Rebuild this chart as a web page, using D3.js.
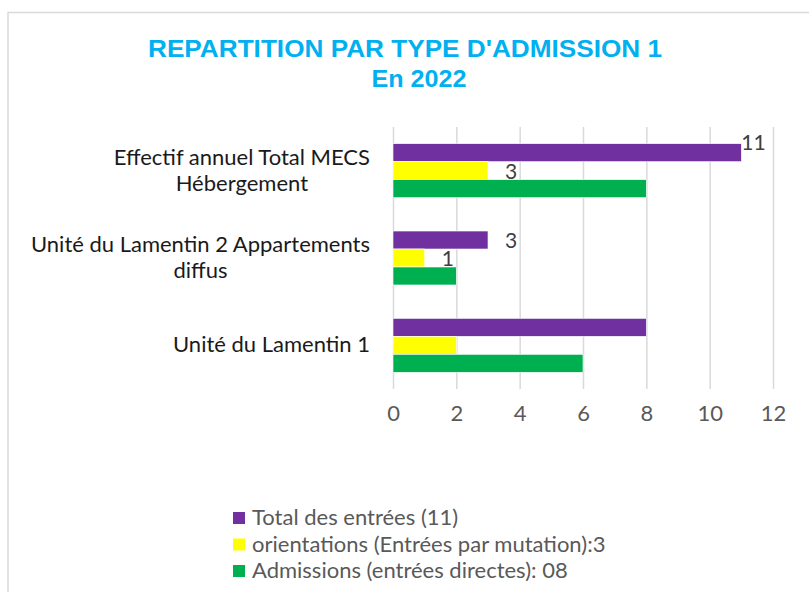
<!DOCTYPE html>
<html>
<head>
<meta charset="utf-8">
<script src="https://cdn.jsdelivr.net/npm/d3@7"></script>
<style>
  body { margin: 0; background: #fff; }
  svg { display: block; }
</style>
</head>
<body>
<svg id="chart" width="809" height="592"></svg>
<script>
// categories, top to bottom (each one split into its wrapped lines)
const categories = ["Effectif annuel Total MECS Hébergement", "Unité du Lamentin 2 Appartements diffus", "Unité du Lamentin 1"];
const categoryLines = [["Effectif annuel Total MECS", "Hébergement"], ["Unité du Lamentin 2 Appartements", "diffus"], ["Unité du Lamentin 1"]];

const seriesNames = ["Total des entrées (11)", "orientations (Entrées par mutation):3", "Admissions (entrées directes): 08"];
const seriesColors = ["#7030A0", "#FFFF00", "#00B050"];

const totalValues = [11, 3, 8];
const orientationValues = [3, 1, 2];
const admissionValues = [8, 2, 6];

// which bars carry a data label (null = no label)
const totalLabels = [11, 3, null];
const orientationLabels = [3, 1, null];
const admissionLabels = [null, null, null];

const xTicks = [0, 2, 4, 6, 8, 10, 12];
const titleLines = ["REPARTITION PAR TYPE D'ADMISSION 1", "En 2022"];

const seriesValues = [totalValues, orientationValues, admissionValues];
const seriesLabels = [totalLabels, orientationLabels, admissionLabels];

const svg = d3.select("#chart");
const font = "Lato, 'Open Sans', sans-serif";

// chart frame (runs off the picture on the right and bottom)
svg.append("rect")
  .attr("x", 8).attr("y", 12.5)
  .attr("width", 820).attr("height", 600)
  .attr("fill", "#fff")
  .attr("stroke", "#D9D9D9")
  .attr("stroke-width", 1.5);

// title
svg.append("text")
  .attr("x", 405).attr("y", 57)
  .attr("text-anchor", "middle")
  .attr("font-family", "'Liberation Sans Narrow', 'Liberation Sans', Arial, sans-serif")
  .attr("font-weight", "bold")
  .attr("font-size", 24)
  .attr("fill", "#00B0F0")
  .attr("textLength", 514)
  .attr("lengthAdjust", "spacingAndGlyphs")
  .text(titleLines[0]);
svg.append("text")
  .attr("x", 419).attr("y", 87)
  .attr("text-anchor", "middle")
  .attr("font-family", "'Liberation Sans Narrow', 'Liberation Sans', Arial, sans-serif")
  .attr("font-weight", "bold")
  .attr("font-size", 24)
  .attr("fill", "#00B0F0")
  .attr("textLength", 95)
  .attr("lengthAdjust", "spacingAndGlyphs")
  .text(titleLines[1]);

// scales
const x = d3.scaleLinear().domain([0, 12]).range([393, 773]);
const y = d3.scaleBand().domain(categories).range([127, 389])
  .paddingInner(0.382).paddingOuter(0.191);
const ySub = d3.scaleBand().domain(d3.range(seriesNames.length)).range([0, y.bandwidth()]);

// gridlines
svg.append("g")
  .attr("transform", "translate(0,389)")
  .call(d3.axisBottom(x).tickValues(xTicks).tickSize(-262).tickFormat(""))
  .call(g => g.select(".domain").remove())
  .call(g => g.selectAll("line").attr("stroke", "#D9D9D9").attr("stroke-width", 1.5));

// x tick labels
svg.append("g")
  .attr("transform", "translate(0,405)")
  .call(d3.axisBottom(x).tickValues(xTicks).tickSize(0).tickPadding(0))
  .call(g => g.select(".domain").remove())
  .call(g => g.selectAll("text")
    .attr("font-family", font)
    .attr("font-size", 22)
    .attr("fill", "#595959"));

// bars
const rows = [];
categories.forEach((c, i) => {
  seriesValues.forEach((vals, s) => {
    rows.push({ cat: c, s: s, v: vals[i], label: seriesLabels[s][i] });
  });
});

svg.append("g").selectAll("rect")
  .data(rows)
  .join("rect")
  .attr("x", x(0))
  .attr("y", d => y(d.cat) + ySub(d.s))
  .attr("width", d => x(d.v) - x(0))
  .attr("height", ySub.bandwidth())
  .attr("fill", d => seriesColors[d.s])
  .attr("stroke", "#fff")
  .attr("stroke-width", 0.6);

// data labels
svg.append("g").selectAll("text")
  .data(rows.filter(d => d.label !== null))
  .join("text")
  .attr("font-family", font)
  .attr("font-size", 21)
  .attr("fill", "#404040")
  .text(d => d.label)
  .each(function (d) {
    const t = d3.select(this);
    const w = this.getComputedTextLength();
    let lx = x(d.v) + 17;
    let ly = y(d.cat) + ySub(d.s) + ySub.bandwidth() / 2 + 8;
    // too close to the right edge: sit on the bar end, a little higher
    if (lx + w > x.range()[1]) {
      lx = x(d.v);
      ly -= 11;
    }
    t.attr("x", lx).attr("y", ly);
  });

// category labels: first line ends at the axis gap, wrapped lines centred under it
categories.forEach((c, i) => {
  const lines = categoryLines[i];
  const cy = y(c) + y.bandwidth() / 2 + 7;
  const top = cy - (lines.length - 1) * 26 / 2;
  let mid = 0;
  lines.forEach((line, j) => {
    const t = svg.append("text")
      .attr("font-family", font)
      .attr("font-size", 22)
      .attr("fill", "#1a1a1a")
      .attr("y", top + j * 26)
      .text(line);
    if (j === 0) {
      t.attr("x", 370).attr("text-anchor", "end");
      mid = 370 - t.node().getComputedTextLength() / 2;
    } else {
      t.attr("x", mid).attr("text-anchor", "middle");
    }
  });
});

// legend
const legend = svg.append("g").selectAll("g")
  .data(seriesNames)
  .join("g")
  .attr("transform", (d, i) => `translate(233,${512 + i * 26.5})`);
legend.append("rect")
  .attr("width", 12).attr("height", 12)
  .attr("fill", (d, i) => seriesColors[i]);
legend.append("text")
  .attr("x", 19).attr("y", 13)
  .attr("font-family", font)
  .attr("font-size", 22)
  .attr("fill", "#595959")
  .text(d => d);
</script>
</body>
</html>
